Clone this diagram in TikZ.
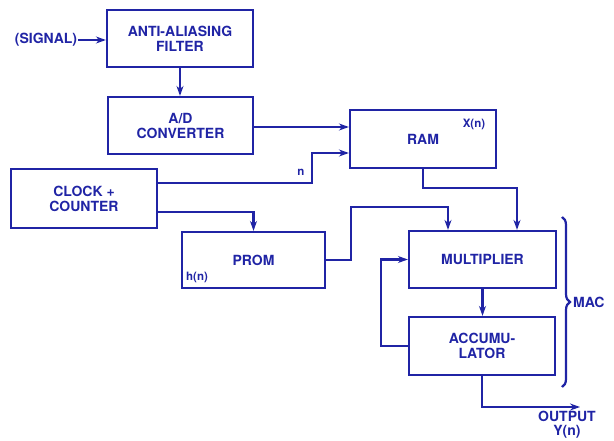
\documentclass[tikz,border=0pt]{standalone}
\usepackage{fontspec}
\setmainfont{TeX Gyre Heros}
\usepackage{xcolor}
\usetikzlibrary{arrows.meta, calc, decorations.pathreplacing, positioning}
\definecolor{ink}{RGB}{32,36,165}

\begin{document}
\begin{tikzpicture}[x=1pt, y=-1pt, line width=2.2pt, draw=ink, text=ink,
    font=\bfseries\fontsize{14}{15}\selectfont,
    blk/.style={draw, rectangle, inner sep=0pt, align=center},
    sig/.style={-{Stealth[length=10pt,width=7pt]}},
    lbl/.style={inner sep=0pt, font=\bfseries\fontsize{11.5}{13}\selectfont}]
            \useasboundingbox (0,0) rectangle (614,441);
            \node[blk, minimum width=146pt, minimum height=57pt] (filt) at (180,38.5) {ANTI-ALIASING\\FILTER};
            \node[blk, minimum width=145pt, minimum height=57pt] (adc) at (180.5,125.5) {A/D\\CONVERTER};
            \node[blk, minimum width=146pt, minimum height=58pt] (ram) at (423,139) {RAM};
            \node[blk, minimum width=146pt, minimum height=59pt] (clk) at (84,198.5) {CLOCK +\\COUNTER};
            \node[blk, minimum width=143pt, minimum height=56pt] (prom) at (253.5,260) {PROM};
            \node[blk, minimum width=147pt, minimum height=57pt] (mult) at (482.5,259.5) {MULTIPLIER};
            \node[blk, minimum width=146pt, minimum height=58pt] (acc) at (482,346) {ACCUMU-\\LATOR};
            \node[inner sep=0pt] (signal) at (46,40) {(SIGNAL)};
            \node[lbl] (xn) at (474,124) {X(n)};
            \node[lbl] (hn) at (197,277) {h(n)};
            \node[lbl] (nlbl) at (301,172) {n};
            \node[inner sep=0pt, align=center, anchor=north, font=\bfseries\fontsize{14}{14}\selectfont] (out) at (567,410) {OUTPUT\\Y(n)};
            \coordinate (outp) at (580,407);
            % signal path
            \draw[sig] (signal.east) -- (signal.east -| filt.west);
            \draw[sig] (filt.south) -- (filt.south |- adc.north);
            \draw[sig] (adc.east |- 0,127) -- (ram.west |- 0,127);
            \draw[sig] (clk.east |- 0,183) -- (312,183) -- (312,153) -- (ram.west |- 0,153);
            \draw[sig] (clk.east |- 0,212) -| (prom.north);
            \draw[sig] (prom.east) -- (351,260) |- (448,207) -- ([xshift=-34.5pt]mult.north);
            \draw[sig] (ram.south) -- (423,188) -| ([xshift=34.5pt]mult.north);
            \draw[sig] (mult.south) -- (mult.south |- acc.north);
            \draw[sig] (acc.west) -- (381,346) |- (mult.west);
            \draw[sig] (acc.south) |- (outp);
            % MAC brace
            \draw[decorate, decoration={brace, amplitude=8pt}] (562,217) -- (562,387)
                node[midway, right=10pt, inner sep=0pt] (mac) {MAC};
        \end{tikzpicture}
\end{document}
